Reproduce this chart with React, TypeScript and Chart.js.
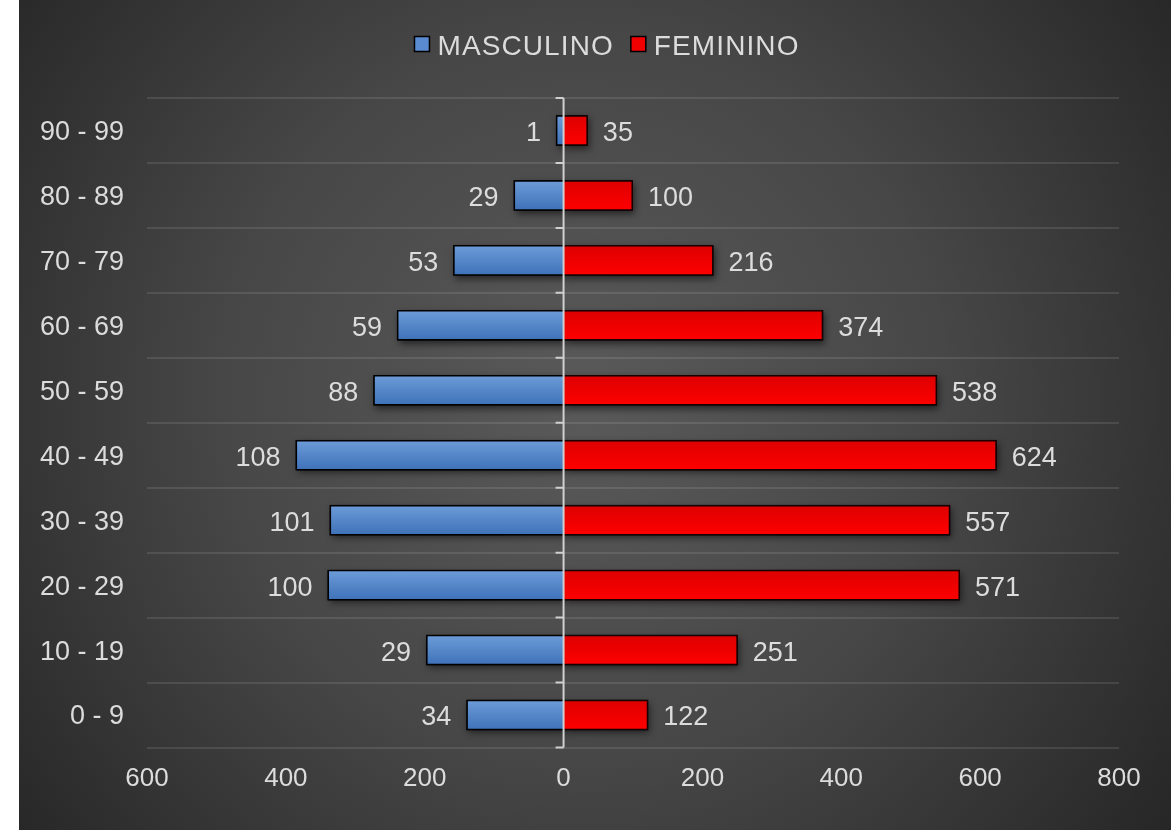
import React, { useEffect, useRef } from 'react';
import { Chart, registerables } from 'chart.js';

Chart.register(...registerables);

// Age groups, top to bottom
const categories = ['90 - 99', '80 - 89', '70 - 79', '60 - 69', '50 - 59', '40 - 49', '30 - 39', '20 - 29', '10 - 19', '0 - 9'];
// Length of the male bars as drawn on the x axis
const maleBarLengths = [11, 72, 159, 240, 274, 386, 337, 340, 198, 140];
// Counts printed next to the male bars
const maleCounts = [1, 29, 53, 59, 88, 108, 101, 100, 29, 34];
// Female counts (bar length and label)
const femaleCounts = [35, 100, 216, 374, 538, 624, 557, 571, 251, 122];
const seriesNames = ['MASCULINO', 'FEMININO'];
const xMin = -600;
const xMax = 800;
const xStep = 200;

const FONT = '"Liberation Sans", Arial, sans-serif';
const TEXT = '#dcdcdc';

export default function App() {
  const ref = useRef<HTMLCanvasElement>(null);

  useEffect(() => {
    const canvas = ref.current;
    if (!canvas) return;

    const bandFill = (top: string, bottom: string, flat: string) => (c: any) => {
      const chart = c.chart;
      const ys = chart.scales && chart.scales.y;
      if (c.dataIndex === undefined || !ys) return flat;
      const y = ys.getPixelForValue(c.dataIndex);
      if (!Number.isFinite(y)) return flat;
      const h = 16;
      const g = chart.ctx.createLinearGradient(0, y - h, 0, y + h);
      g.addColorStop(0, top);
      g.addColorStop(1, bottom);
      return g;
    };

    const bgPlugin = {
      id: 'bg',
      beforeDraw(chart: any) {
        const { ctx, width, height } = chart;
        const cx = width * 0.49;
        const cy = height * 0.48;
        const g = ctx.createRadialGradient(cx, cy, 0, cx, cy, 720);
        g.addColorStop(0, '#5a5a5a');
        g.addColorStop(0.5, '#474747');
        g.addColorStop(1, '#272727');
        ctx.save();
        ctx.fillStyle = g;
        ctx.fillRect(0, 0, width, height);
        ctx.restore();
      },
    };

    const shadowPlugin = {
      id: 'barShadow',
      beforeDatasetsDraw(chart: any) {
        const ctx = chart.ctx;
        ctx.save();
        ctx.shadowColor = 'rgba(0,0,0,0.55)';
        ctx.shadowBlur = 7;
        ctx.shadowOffsetX = 2;
        ctx.shadowOffsetY = 3;
        ctx.fillStyle = '#000';
        chart.data.datasets.forEach((_: any, di: number) => {
          const meta = chart.getDatasetMeta(di);
          meta.data.forEach((el: any) => {
            const left = Math.min(el.x, el.base);
            const w = Math.abs(el.x - el.base);
            ctx.fillRect(left, el.y - el.height / 2, w, el.height);
          });
        });
        ctx.restore();
      },
    };

    const overlayPlugin = {
      id: 'overlay',
      afterDatasetsDraw(chart: any) {
        const ctx = chart.ctx;
        const area = chart.chartArea;
        const x0 = chart.scales.x.getPixelForValue(0);
        ctx.save();
        // zero axis with tick marks
        ctx.strokeStyle = '#d0d0d0';
        ctx.lineWidth = 2;
        ctx.beginPath();
        ctx.moveTo(x0, area.top);
        ctx.lineTo(x0, area.bottom);
        const n = categories.length;
        for (let i = 0; i <= n; i++) {
          const y = area.top + (i * (area.bottom - area.top)) / n;
          ctx.moveTo(x0 - 8, y);
          ctx.lineTo(x0, y);
        }
        ctx.stroke();

        // data labels
        ctx.font = `27px ${FONT}`;
        ctx.fillStyle = TEXT;
        ctx.textBaseline = 'middle';
        const male = chart.getDatasetMeta(0);
        male.data.forEach((el: any, i: number) => {
          ctx.textAlign = 'right';
          ctx.fillText(String(maleCounts[i]), el.x - 15, el.y + 3);
        });
        const fem = chart.getDatasetMeta(1);
        fem.data.forEach((el: any, i: number) => {
          ctx.textAlign = 'left';
          ctx.fillText(String(femaleCounts[i]), el.x + 15, el.y + 3);
        });
        ctx.restore();
      },
    };

    const legendPlugin = {
      id: 'customLegend',
      afterDraw(chart: any) {
        const ctx = chart.ctx;
        ctx.save();
        ctx.font = `28px ${FONT}`;
        (ctx as any).letterSpacing = '1.1px';
        const fills = ['#5a8bd0', '#f00000'];
        const box = 15;
        const gap = 8;
        const itemGap = 17;
        const widths = seriesNames.map((s) => box + gap + ctx.measureText(s).width);
        const total = widths.reduce((a, b) => a + b, 0) + itemGap * (seriesNames.length - 1);
        let x = chart.width / 2 + 12 - total / 2;
        const cy = 44;
        seriesNames.forEach((s, i) => {
          ctx.fillStyle = fills[i];
          ctx.fillRect(x, cy - box / 2, box, box);
          ctx.strokeStyle = '#000';
          ctx.lineWidth = 1.5;
          ctx.strokeRect(x, cy - box / 2, box, box);
          ctx.fillStyle = TEXT;
          ctx.textAlign = 'left';
          ctx.textBaseline = 'middle';
          ctx.fillText(s, x + box + gap, cy + 3);
          x += widths[i] + itemGap;
        });
        ctx.restore();
      },
    };

    const chart = new Chart(canvas, {
      type: 'bar',
      data: {
        labels: categories,
        datasets: [
          {
            label: seriesNames[0],
            data: maleBarLengths.map((v) => -v),
            backgroundColor: bandFill('#6e9dd9', '#3c70b7', '#5a8bd0'),
            borderColor: '#000000',
            borderWidth: 1.5,
            categoryPercentage: 1,
            barPercentage: 0.47,
          },
          {
            label: seriesNames[1],
            data: femaleCounts,
            backgroundColor: bandFill('#dc0000', '#ff0000', '#f00000'),
            borderColor: '#1a0000',
            borderWidth: 1.5,
            categoryPercentage: 1,
            barPercentage: 0.47,
          },
        ],
      },
      options: {
        indexAxis: 'y',
        animation: false,
        responsive: false,
        devicePixelRatio: 1,
        layout: { padding: { top: 98, right: 52, bottom: 0, left: 0 } },
        plugins: {
          legend: { display: false },
          tooltip: { enabled: false },
        },
        scales: {
          x: {
            type: 'linear',
            stacked: true,
            min: xMin,
            max: xMax,
            ticks: {
              stepSize: xStep,
              color: TEXT,
              font: { size: 26, family: FONT },
              padding: 16,
              callback: (v: any) => String(Math.abs(Number(v))),
            },
            grid: { display: false, drawTicks: false },
            border: { display: false },
            afterFit: (s: any) => {
              s.height = 82.5;
            },
          },
          y: {
            stacked: true,
            ticks: {
              color: TEXT,
              font: { size: 27, family: FONT },
              padding: 23,
              labelOffset: 2,
            },
            grid: {
              color: 'rgba(255,255,255,0.1)',
              lineWidth: 2,
              drawTicks: false,
              offset: true,
            },
            border: { display: false },
            afterFit: (s: any) => {
              s.width = 128;
            },
          },
        },
      },
      plugins: [bgPlugin, shadowPlugin, overlayPlugin, legendPlugin],
    } as any);

    return () => chart.destroy();
  }, []);

  return (
    <div style={{ position: 'absolute', left: 19, top: 0, width: 1152, height: 830 }}>
      <canvas ref={ref} width={1152} height={830} style={{ display: 'block', width: 1152, height: 830 }} />
    </div>
  );
}
